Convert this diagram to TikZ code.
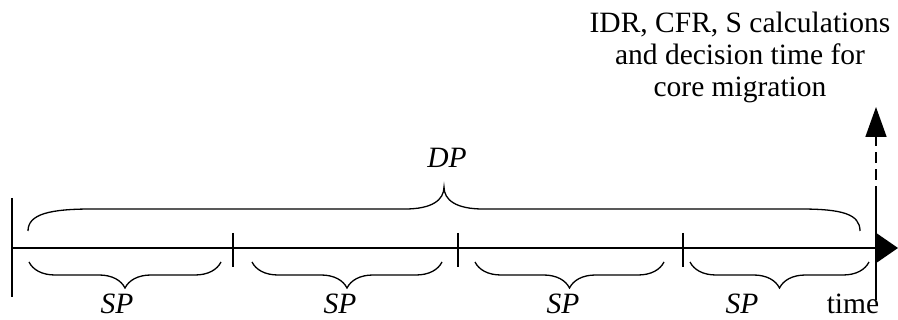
\documentclass[tikz,border=0pt]{standalone}
\usepackage{fontspec}
\setmainfont{Liberation Serif}
\usetikzlibrary{arrows, arrows.meta, decorations.pathreplacing}

\tikzset{
  bar/.style={line width=1.6pt},
  spbrace/.style={line width=1.3pt, decorate, decoration={brace, mirror, amplitude=26pt}},
  lbl/.style={font=\fontsize{29.5}{32}\selectfont, inner sep=0pt, anchor=base},
}

\begin{document}
\begin{tikzpicture}[x=1pt,y=-1pt]
\useasboundingbox (0,0) rectangle (898,320);
% time axis
\coordinate (start) at (12,248);
\coordinate (stop) at (898,248);
\draw[bar,-{Triangle[width=30pt,length=22pt]}] (start) -- (stop);
\draw[bar] (12,198) coordinate (lt) -- (12,297) coordinate (lb);
% sub period ticks
\draw[bar] (233,233) coordinate (t1a) -- (233,267) coordinate (t1b);
\draw[bar] (458,233) coordinate (t2a) -- (458,267) coordinate (t2b);
\draw[bar] (683,233) coordinate (t3a) -- (683,267) coordinate (t3b);
% decision point
\coordinate (rb) at (876,300);
\coordinate (rm) at (876,197);
\coordinate (rt) at (876,107);
\draw[bar] (rb) -- (rm);
\draw[bar,dash pattern=on 11pt off 6pt,-{Triangle[width=21pt,length=30pt]}] (rm) -- (rt);
% DP brace
\draw[line width=1.3pt] (28,231) .. controls (28,214) and (50,209) .. (92,209) -- (405,209)
  .. controls (432,209) and (444,200) .. (444,187)
  .. controls (444,200) and (456,209) .. (483,209) -- (800,209)
  .. controls (842,209) and (860,214) .. (860,231);
\node[lbl] (dp) at (447,168) {\textit{DP}};
% SP braces
\draw[spbrace] (29,262) -- (221,262);
\draw[spbrace] (252,262) -- (442,262);
\draw[spbrace] (475,262) -- (664,262);
\draw[spbrace] (690,262) -- (869,262);
\node[lbl] (sp1) at (117,314) {\textit{SP}};
\node[lbl] (sp2) at (340,314) {\textit{SP}};
\node[lbl] (sp3) at (563,314) {\textit{SP}};
\node[lbl] (sp4) at (742,314) {\textit{SP}};
\node[lbl] (time) at (853,314) {time};
\node[lbl,align=center] (calc) at (740,97) {IDR, CFR, S calculations\\and decision time for\\core migration};
\end{tikzpicture}
\end{document}
